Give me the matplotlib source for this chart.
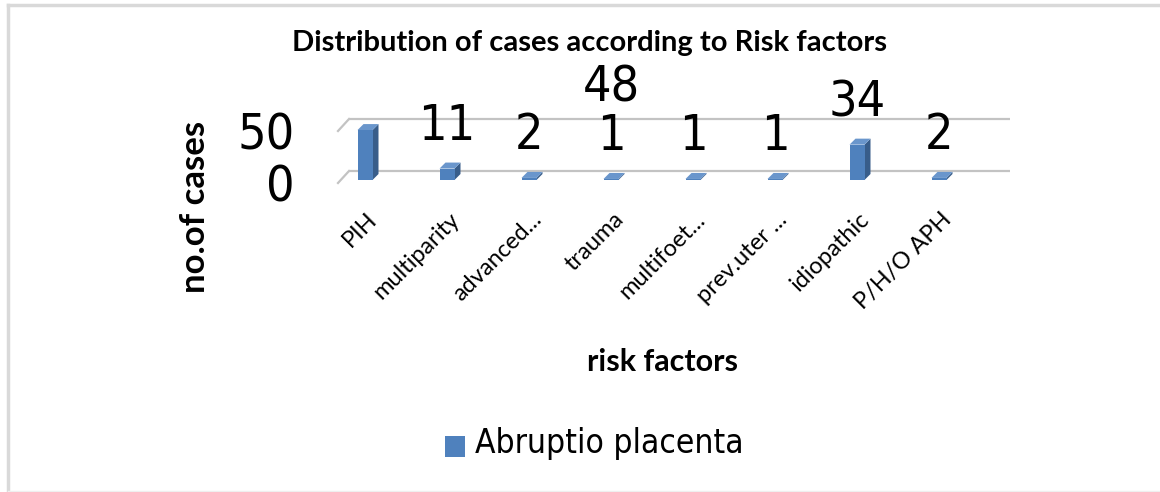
import numpy as np
import matplotlib.pyplot as plt
from matplotlib.patches import Polygon, Rectangle
from matplotlib.lines import Line2D
from matplotlib.transforms import blended_transform_factory

# data
categories = ['PIH', 'multiparity', 'advanced...', 'trauma', 'multifoet...',
              'prev.uter ...', 'idiopathic', 'P/H/O APH']
cases = [48, 11, 2, 1, 1, 1, 34, 2]
label_shift = [3, 0, 0, 0, 0, 0, 0, 0]   # the 48 label sits over "trauma" in the original
yticks = [0, 50]
series_name = 'Abruptio placenta'

blue = '#4F81BD'
blue_side = '#385D8A'
blue_top = '#6A96CC'
grid_col = '#C3C3C3'

W, H = 1160, 492
fig = plt.figure(figsize=(W / 100, H / 100), dpi=100)

# axes placed in pixels: left 300, right 1020, top 100, bottom 200
ax = fig.add_axes([300 / W, (H - 200) / H, 720 / W, 100 / H])
c0 = 365       # px of first category
px_x = 82.0    # px per category
px_y = 1.04    # px per case
ax.set_xlim((300 - c0) / px_x, (1020 - c0) / px_x)
ax.set_ylim(-20 / px_y, 80 / px_y)
ax.axis('off')

# 3d-ish depth
bw = 15 / px_x
bdx, bdy = 6 / px_x, 6 / px_y
fdx, fdy = 11 / px_x, 9 / px_y

# back wall gridlines with the little floor diagonal
x0 = (349 - c0) / px_x
x1 = (1010 - c0) / px_x
for g in yticks:
    ax.plot([x0, x1], [g + fdy, g + fdy], color=grid_col, lw=1.6, solid_capstyle='butt', zorder=1)
    ax.plot([x0 - fdx, x0], [g - 3 / px_y, g + fdy], color=grid_col, lw=1.6, zorder=1)

for i, v in enumerate(cases):
    l, r = i - bw / 2, i + bw / 2
    ax.add_patch(Polygon([(r, 0), (r + bdx, bdy), (r + bdx, v + bdy), (r, v)],
                         closed=True, fc=blue_side, ec='none', zorder=3))
    ax.add_patch(Polygon([(l, v), (r, v), (r + bdx, v + bdy), (l + bdx, v + bdy)],
                         closed=True, fc=blue_top, ec='none', zorder=3))
    ax.bar(i, v, width=bw, color=blue, edgecolor='none', zorder=4)
    ax.annotate(str(v), xy=(i + label_shift[i], v + bdy), xytext=(0, 9),
                textcoords='offset points', ha='center', va='bottom',
                fontsize=36, family='DejaVu Sans', fontstretch='condensed', zorder=5)

# y tick labels
for t in yticks:
    ax.text((295 - c0) / px_x, t - 8 / px_y, str(t), ha='right', va='center',
            fontsize=36, family='DejaVu Sans', fontstretch='condensed')

# rotated category labels
tr = blended_transform_factory(ax.transData, ax.transAxes)
for i, c in enumerate(categories):
    ax.text(i + 9 / px_x, -0.16, c, rotation=45, rotation_mode='anchor',
            ha='right', va='center', fontsize=17, family='Lato', transform=tr)

fig.text(589 / W, 1 - 43 / H, 'Distribution of cases according to Risk factors',
         ha='center', va='center', fontsize=21, fontweight='bold', family='Lato')
fig.text(195 / W, 1 - 207 / H, 'no.of cases', rotation=90, ha='center', va='center',
         fontsize=25, fontweight='bold', family='Lato')
fig.text(663 / W, 1 - 362 / H, 'risk factors', ha='center', va='center',
         fontsize=22, fontweight='bold', family='Lato')

# legend
fig.patches.append(Rectangle((445 / W, 1 - 457 / H), 20 / W, 21 / H,
                             transform=fig.transFigure, fc=blue, ec='none'))
fig.text(475 / W, 1 - 443 / H, series_name, ha='left', va='center',
         fontsize=24, family='DejaVu Sans', fontstretch='condensed')

# chart border: grey top and left, faint bottom
fig.add_artist(Line2D([8 / W, 1], [1 - 5 / H, 1 - 5 / H], color='#D9D9D9', lw=2.5))
fig.add_artist(Line2D([8 / W, 8 / W], [1 - 5 / H, 0], color='#D9D9D9', lw=2.5))
fig.add_artist(Line2D([8 / W, 1], [1 - 490.5 / H, 1 - 490.5 / H], color='#EFEFEF', lw=1))

fig.savefig('out.png', dpi=100, facecolor='white')
